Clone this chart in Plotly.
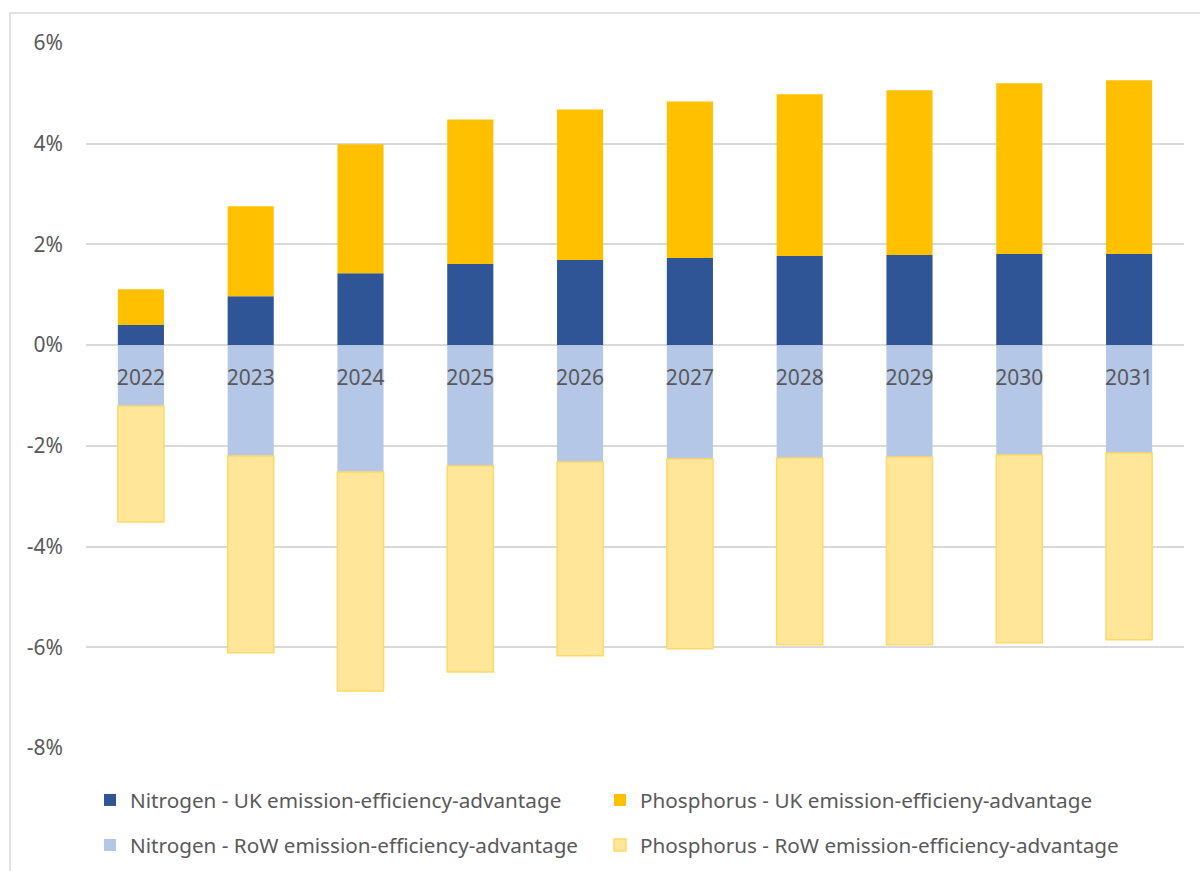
import plotly.graph_objects as go

years = ["2022", "2023", "2024", "2025", "2026", "2027", "2028", "2029", "2030", "2031"]
n_uk = [0.40, 0.97, 1.43, 1.61, 1.69, 1.73, 1.77, 1.79, 1.81, 1.81]
p_uk = [0.71, 1.79, 2.56, 2.87, 2.99, 3.11, 3.21, 3.27, 3.39, 3.45]
n_row = [-1.21, -2.20, -2.52, -2.40, -2.32, -2.26, -2.24, -2.22, -2.18, -2.14]
p_row = [-2.30, -3.91, -4.35, -4.09, -3.85, -3.77, -3.71, -3.73, -3.73, -3.71]

names = [
    "Nitrogen - UK emission-efficiency-advantage",
    "Phosphorus - UK emission-efficieny-advantage",
    "Nitrogen - RoW emission-efficiency-advantage",
    "Phosphorus - RoW emission-efficiency-advantage",
]
y_ticks = [-8, -6, -4, -2, 0, 2, 4, 6]
y_tick_text = ["-8%", "-6%", "-4%", "-2%", "0%", "2%", "4%", "6%"]

fills = ["#2F5597", "#FFC000", "#B4C7E7", "#FFE699"]
lines = ["#2F5597", "#FFC000", "#B4C7E7", "#FFD966"]
line_w = [0, 0, 0, 1.5]
legend_ids = ["legend", "legend2", "legend3", "legend4"]
# legend positions in pixels (left x, centre y)
legend_pos = [(90, 800), (600, 800), (90, 845), (600, 845)]

fig = go.Figure()
for nm, vals, fc, lc, lw, lg in zip(names, [n_uk, p_uk, n_row, p_row], fills, lines, line_w, legend_ids):
    fig.add_trace(go.Bar(
        x=years, y=vals, name=nm, legend=lg,
        marker=dict(color=fc, line=dict(color=lc, width=lw)),
    ))

L, T, B, R = 86, 43, 123, 16
W, H = 1200, 871
ph = H - T - B
pw = W - L - R

FONT = "Noto Sans"
TXT = "#595959"

legends = {}
for lg, (px, py) in zip(legend_ids, legend_pos):
    legends[lg] = dict(
        orientation="h",
        x=(px - L) / pw, xanchor="left",
        y=(748 - py) / ph, yanchor="middle",
        itemwidth=30,
        font=dict(family=FONT, size=20.7, color=TXT),
        bgcolor="rgba(0,0,0,0)",
    )

fig.update_layout(
    width=W, height=H,
    margin=dict(l=L, r=R, t=T, b=B, autoexpand=False),
    barmode="relative",
    bargap=0.58,
    plot_bgcolor="white",
    paper_bgcolor="white",
    font=dict(family=FONT, size=20, color=TXT),
    showlegend=True,
    xaxis=dict(
        anchor="free",
        position=(748 - 345) / ph,
        showgrid=False,
        showline=False,
        ticks="",
        ticklabelstandoff=18,
        tickfont=dict(family=FONT, size=21, color=TXT),
        layer="above traces",
    ),
    yaxis=dict(
        range=[-8, 6],
        tickvals=y_ticks,
        ticktext=y_tick_text,
        showgrid=True,
        gridcolor="#D9D9D9",
        gridwidth=1.5,
        zeroline=True,
        zerolinecolor="#D9D9D9",
        zerolinewidth=1.5,
        showline=False,
        ticks="",
        ticklabelstandoff=22,
        tickfont=dict(family=FONT, size=21, color=TXT),
    ),
    **legends,
)

fig.add_shape(
    type="rect", xref="paper", yref="paper",
    x0=(10 - L) / pw, x1=(1210 - L) / pw,
    y0=(748 - 890) / ph, y1=(748 - 13) / ph,
    line=dict(color="#D9D9D9", width=1.5),
    fillcolor="rgba(0,0,0,0)",
    layer="below",
)

fig.write_html("out.html")
